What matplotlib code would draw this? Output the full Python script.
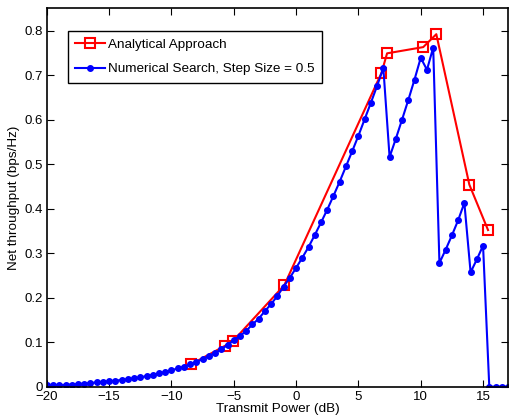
import numpy as np
import matplotlib.pyplot as plt

plt.rcParams['font.family'] = ['Liberation Sans', 'DejaVu Sans']

# Numerical search, step size 0.5 dB
x_num = np.arange(-20, 17.01, 0.5)
y_num = [0.003, 0.003, 0.004, 0.004, 0.005, 0.006, 0.007, 0.008, 0.010, 0.011,
         0.012, 0.014, 0.015, 0.017, 0.019, 0.021, 0.024, 0.027, 0.030, 0.033,
         0.037, 0.041, 0.045, 0.050, 0.056, 0.062, 0.069, 0.076, 0.084, 0.094,
         0.105, 0.114, 0.126, 0.140, 0.153, 0.170, 0.186, 0.204, 0.225, 0.245,
         0.267, 0.290, 0.314, 0.341, 0.369, 0.398, 0.429, 0.461, 0.495, 0.529,
         0.564, 0.601, 0.638, 0.676, 0.716, 0.516, 0.557, 0.600, 0.644, 0.690,
         0.739, 0.712, 0.762, 0.278, 0.308, 0.340, 0.374, 0.413, 0.257, 0.286,
         0.317, 0.0, 0.0, 0.0, 0.0]

# Analytical approach
x_ana = [-8.4, -5.7, -5.05, -0.95, 6.85, 7.3, 10.2, 11.25, 13.9, 15.4]
y_ana = [0.051, 0.092, 0.103, 0.228, 0.705, 0.749, 0.763, 0.792, 0.454, 0.352]

fig = plt.figure(figsize=(5.09, 4.19), dpi=100)
ax = fig.add_axes([0.092, 0.077, 0.906, 0.903])

ax.plot(x_ana, y_ana, '-s', color='red', lw=1.5, ms=6.5, mfc='none', mew=1.5,
        label='Analytical Approach')
ax.plot(x_num, y_num, '-o', color='blue', lw=1.5, ms=4,
        label='Numerical Search, Step Size = 0.5')

ax.set_xlim(-20, 17)
ax.set_ylim(0, 0.85)
ax.set_xticks(np.arange(-20, 16, 5))
ax.set_yticks(np.arange(0, 0.81, 0.1))
ax.set_xticklabels(['\u221220', '\u221215', '\u221210', '\u22125', '0', '5', '10', '15'])
ax.set_yticklabels(['0', '0.1', '0.2', '0.3', '0.4', '0.5', '0.6', '0.7', '0.8'])
ax.tick_params(direction='in', top=True, right=True, labelsize=9.5, length=5, pad=3)
for s in ax.spines.values():
    s.set_linewidth(1.2)

ax.set_xlabel('Transmit Power (dB)', fontsize=9.7, labelpad=0)
ax.set_ylabel('Net throughput (bps/Hz)', fontsize=9.7, labelpad=3)

leg = ax.legend(loc='upper left', bbox_to_anchor=(0.046, 0.94), fontsize=9.7,
                fancybox=False, framealpha=1, edgecolor='black',
                handlelength=2.2, handletextpad=0.2, borderpad=0.55,
                labelspacing=0.9, borderaxespad=0)
leg.get_frame().set_linewidth(1.0)

fig.savefig('out.png', dpi=100)
